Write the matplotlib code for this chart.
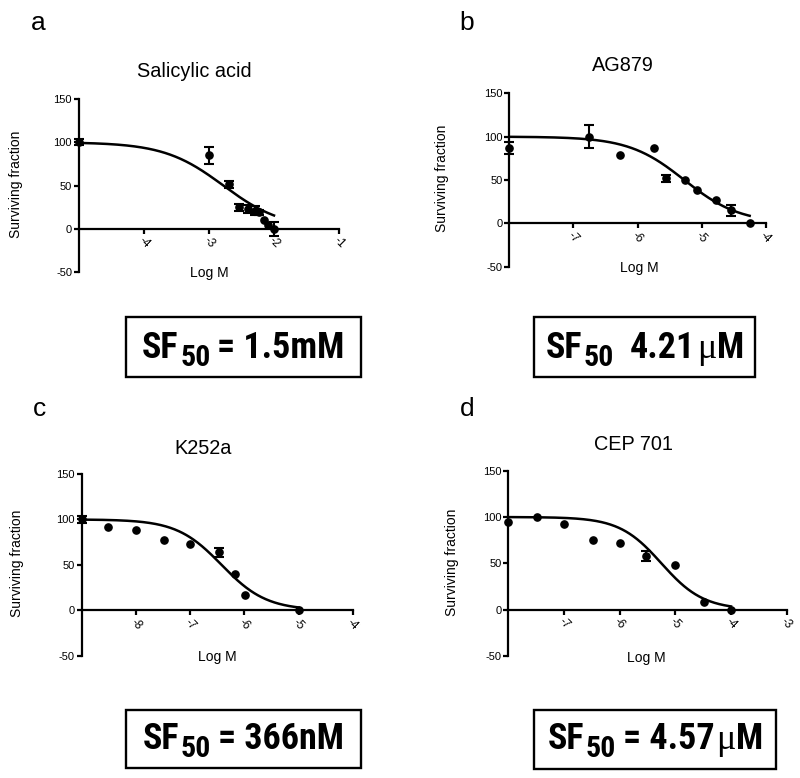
import numpy as np
import matplotlib.pyplot as plt
from matplotlib import font_manager
from matplotlib.font_manager import FontProperties
from matplotlib.patches import Rectangle

plt.rcParams['font.family'] = ['Liberation Sans', 'DejaVu Sans']

# data: x = log M, y = surviving fraction (%)
sal_x = [-5.0, -3.0, -2.70, -2.54, -2.40, -2.30, -2.23, -2.15, -2.10, -2.0]
sal_y = [100, 85, 51.5, 24.6, 23, 21, 19, 10.4, 4, 0]
sal_err = [3.5, 10, 4, 4, 5, 5, 3, 0, 0, 8]

ag_x = [-8.0, -6.76, -6.27, -5.74, -5.56, -5.26, -5.07, -4.77, -4.54, -4.24]
ag_y = [87, 100, 79, 87, 52, 50, 39, 27, 15, 0]
ag_err = [7, 13, 0, 0, 4, 0, 0, 0, 6, 0]

k_x = [-9.0, -8.52, -8.0, -7.48, -7.0, -6.47, -6.17, -5.99, -4.99]
k_y = [100, 91.5, 88.6, 77, 73.5, 63.6, 39.7, 17.3, 0]
k_err = [4, 0, 0, 0, 0, 5, 0, 0, 0]

cep_x = [-8.0, -7.48, -7.0, -6.48, -6.0, -5.52, -5.0, -4.49, -4.0]
cep_y = [95, 100, 93, 75.7, 72.5, 58, 48, 8, 0]
cep_err = [0, 0, 0, 0, 0, 5, 0, 0, 0]

# fitted dose-response: [logIC50, hill slope, x from, x to]
sal_fit = [-2.78, 0.95, -5.0, -2.0]
ag_fit = [-5.27, 1.0, -8.0, -4.25]
k_fit = [-6.42, 1.05, -9.0, -5.0]
cep_fit = [-5.25, 1.15, -8.0, -4.0]

titles = ['Salicylic acid', 'AG879', 'K252a', 'CEP 701']
letters = ['a', 'b', 'c', 'd']
xlims = [(-5, -1), (-8, -4), (-9, -4), (-8, -3)]
xticks = [[-4, -3, -2, -1], [-7, -6, -5, -4], [-8, -7, -6, -5, -4], [-7, -6, -5, -4, -3]]
yticks = [-50, 0, 50, 100, 150]
sf_values = [('= 1.5', 'm'), ('4.21', 'μ'), ('= 366', 'n'), ('= 4.57', 'μ')]

W, H = 800, 778
fig = plt.figure(figsize=(8, 7.78), dpi=100)
renderer = fig.canvas.get_renderer()


# bold font for the SF50 boxes: the one closest to an Arial Narrow Bold width
def pick_sf_font():
    target = 164.0  # px width wanted for 'SF = 4.57M'
    cands = []
    for f in font_manager.fontManager.ttflist:
        wt = f.weight if isinstance(f.weight, int) else {'bold': 700}.get(f.weight, 400)
        if wt < 650 or wt > 750 or f.style != 'normal':
            continue
        if f.name in ('Liberation Sans', 'Roboto', 'Noto Sans', 'Open Sans', 'Arial') or \
                'Narrow' in f.name or 'Condensed' in f.name or f.stretch != 'normal':
            cands.append(f.fname)
    best = None
    for fn in cands:
        try:
            w = renderer.get_text_width_height_descent(
                'SF = 4.57M', FontProperties(fname=fn, size=26), ismath=False)[0]
        except Exception:
            continue
        score = abs(np.log(w / target))
        if best is None or score < best[0]:
            best = (score, fn, w)
    if best is None:
        return FontProperties(family='Liberation Sans', weight='bold'), 22
    return FontProperties(fname=best[1]), 26 * target / best[2]


sf_base, big = pick_sf_font()


def sf_font(size):
    fp = sf_base.copy()
    fp.set_size(size)
    return fp


# layout in pixels
ax_rects = [(79, 339, 99, 272), (509.3, 765.7, 93.3, 266.7),
            (81.7, 352.7, 474, 655.7), (508.3, 786.7, 470.7, 656)]
title_pos = [(194, 71.7), (622.7, 65.7), (202.7, 448.3), (633.3, 444.3)]
ylab_pos = [(16, 184), (442.3, 178.8), (16.7, 563.7), (451.7, 562.5)]
xlab_pos = [(209.3, 272.7), (639, 268.3), (217.3, 656.7), (646.7, 657.7)]
letter_pos = [(38.7, 22.5), (467, 22.5), (40, 409), (467, 409)]
boxes = [(126, 361, 317, 377), (534.3, 755.3, 317.3, 376.7),
         (126, 361, 710, 768), (534.3, 776, 710, 769.3)]
baselines = [358, 358, 749, 749]


def fx(x):
    return x / W


def fy(y):
    return 1 - y / H


datasets = [(sal_x, sal_y, sal_err, sal_fit), (ag_x, ag_y, ag_err, ag_fit),
            (k_x, k_y, k_err, k_fit), (cep_x, cep_y, cep_err, cep_fit)]

for i, (xs, ys, errs, fit) in enumerate(datasets):
    x0, x1, yt, yb = ax_rects[i]
    ax = fig.add_axes([fx(x0), fy(yb), (x1 - x0) / W, (yb - yt) / H])
    ax.set_xlim(*xlims[i])
    ax.set_ylim(-50, 150)
    ax.spines['top'].set_visible(False)
    ax.spines['right'].set_visible(False)
    ax.spines['bottom'].set_position(('data', 0))
    for s in ['left', 'bottom']:
        ax.spines[s].set_linewidth(1.6)
    ax.set_yticks(yticks)
    ax.set_yticklabels([str(v) for v in yticks], fontsize=8)
    ax.set_xticks(xticks[i])
    ax.set_xticklabels([str(v) for v in xticks[i]], fontsize=8.5, rotation=-45,
                       ha='center', va='center')
    ax.tick_params(axis='y', length=3.5, width=1.6, pad=1.5)
    ax.tick_params(axis='x', length=3.6, width=1.6, pad=6.5)

    logic, hill, lo, hi = fit
    xf = np.linspace(lo, hi, 300)
    yf = 100 / (1 + 10 ** ((xf - logic) * hill))
    ax.plot(xf, yf, color='k', lw=1.8, clip_on=False, zorder=3)

    xs = np.array(xs)
    ys = np.array(ys)
    errs = np.array(errs)
    m = errs > 0
    eb = ax.errorbar(xs[m], ys[m], yerr=errs[m], fmt='none', ecolor='k',
                     elinewidth=1.5, capsize=3.6, capthick=1.5, zorder=4)
    for art in eb.get_children():
        art.set_clip_on(False)
    ax.plot(xs, ys, 'o', color='k', ms=5.2, clip_on=False, zorder=5)

    fig.text(fx(title_pos[i][0]), fy(title_pos[i][1]), titles[i], fontsize=14.3,
             ha='center', va='center')
    fig.text(fx(ylab_pos[i][0]), fy(ylab_pos[i][1]), 'Surviving fraction', fontsize=10,
             rotation=90, ha='center', va='center')
    fig.text(fx(xlab_pos[i][0]), fy(xlab_pos[i][1]), 'Log M', fontsize=10,
             ha='center', va='center')
    fig.text(fx(letter_pos[i][0]), fy(letter_pos[i][1]), letters[i], fontsize=19,
             ha='center', va='center')

# SF50 boxes
for i, (num, pre) in enumerate(sf_values):
    bx0, bx1, by0, by1 = boxes[i]
    fig.patches.append(Rectangle((fx(bx0), fy(by1)), (bx1 - bx0) / W, (by1 - by0) / H,
                                 transform=fig.transFigure, fill=False, ec='k', lw=1.7))
    gap_num = 7 if num.startswith('=') else 16
    pieces = [('SF', sf_font(big), 0, 0), ('50', sf_font(big * 0.83), 8, 1.5)]
    if pre == 'μ':
        pieces += [(num, sf_font(big), 0, gap_num),
                   ('μ', FontProperties(family='Liberation Serif', size=26), 0, 1.5),
                   ('M', sf_font(big), 0, 0.5)]
    else:
        pieces += [(num + pre + 'M', sf_font(big), 0, gap_num)]
    arts = []
    for s, fp, dy, gap in pieces:
        t = fig.text(0, 0, s, fontproperties=fp, ha='left', va='baseline')
        w = t.get_window_extent(renderer=renderer).width
        arts.append((t, w, dy, gap))
    total = sum(w + gap for t, w, dy, gap in arts)
    x = (bx0 + bx1) / 2 - total / 2
    for t, w, dy, gap in arts:
        x += gap
        t.set_position((fx(x), fy(baselines[i] + dy)))
        x += w

fig.savefig('out.png', dpi=100)
